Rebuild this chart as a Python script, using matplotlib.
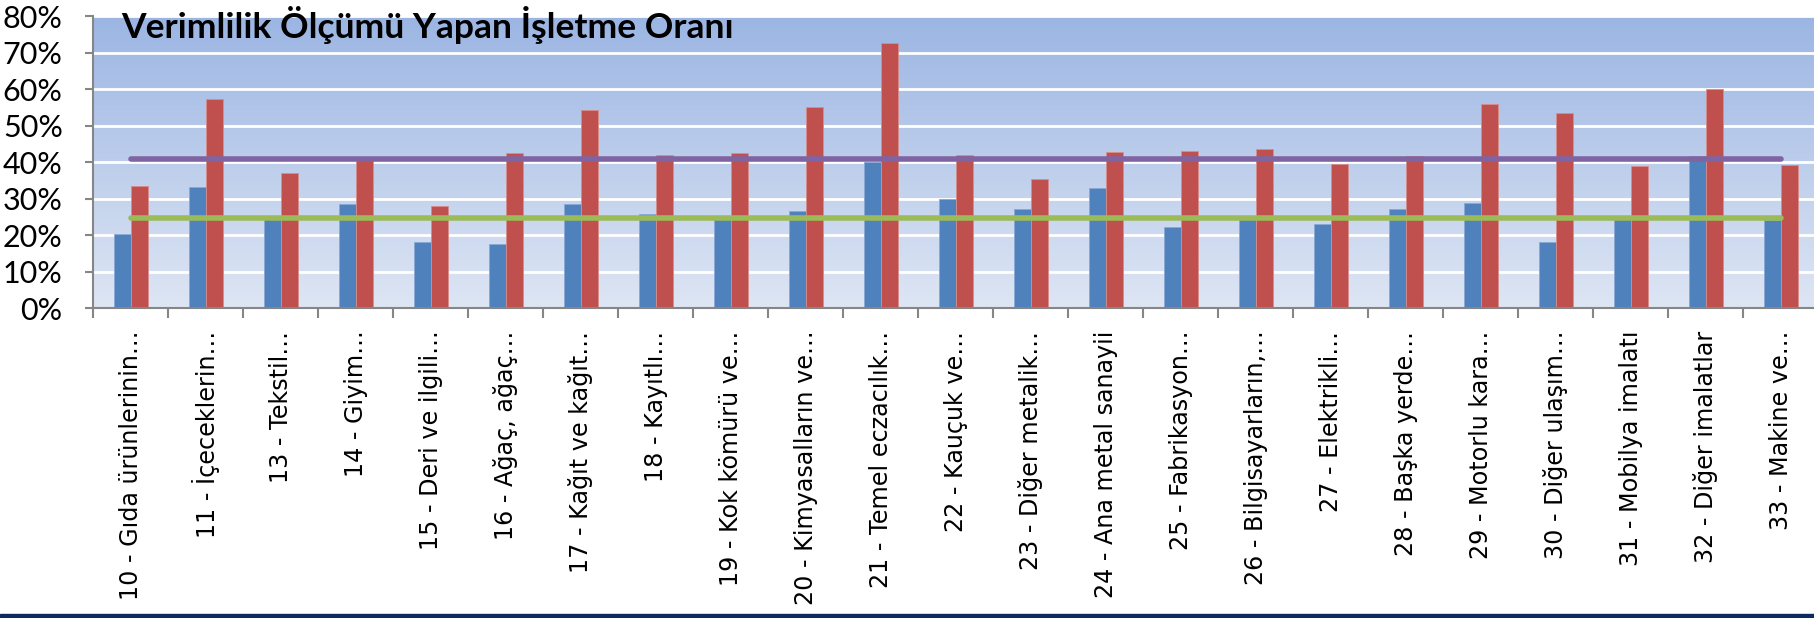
import numpy as np
import matplotlib
matplotlib.use('Agg')
import matplotlib.pyplot as plt
from matplotlib.patches import Rectangle
from matplotlib.ticker import PercentFormatter, FixedLocator

# Sector labels (truncated as in the original chart)
categories = [
    '10 - Gıda ürünlerinin…', '11 - İçeceklerin…', '13 - Tekstil…', '14 - Giyim…',
    '15 - Deri ve ilgili…', '16 - Ağaç, ağaç…', '17 - Kağıt ve kağıt…', '18 - Kayıtlı…',
    '19 - Kok kömürü ve…', '20 - Kimyasalların ve…', '21 - Temel eczacılık…',
    '22 - Kauçuk ve…', '23 - Diğer metalik…', '24 - Ana metal sanayii',
    '25 - Fabrikasyon…', '26 - Bilgisayarların,…', '27 - Elektrikli…',
    '28 - Başka yerde…', '29 - Motorlu kara…', '30 - Diğer ulaşım…',
    '31 - Mobilya imalatı', '32 - Diğer imalatlar', '33 - Makine ve…',
]

# Share of firms measuring productivity (blue / red series)
blue_values = [0.204, 0.333, 0.245, 0.285, 0.181, 0.176, 0.286, 0.258, 0.245, 0.267,
               0.401, 0.299, 0.272, 0.328, 0.222, 0.246, 0.231, 0.272, 0.288, 0.182,
               0.245, 0.417, 0.243]
red_values = [0.336, 0.572, 0.370, 0.405, 0.281, 0.426, 0.543, 0.420, 0.426, 0.550,
              0.727, 0.420, 0.354, 0.429, 0.431, 0.436, 0.395, 0.418, 0.559, 0.535,
              0.389, 0.600, 0.391]

# Average lines
red_average = 0.408
blue_average = 0.248

title = 'Verimlilik Ölçümü Yapan İşletme Oranı'

BLUE = '#4F81BD'
RED = '#C0504D'
GREEN = '#9BBB59'
PURPLE = '#8064A2'

W, H = 1814, 618
fig = plt.figure(figsize=(W / 100, H / 100), dpi=100)
ax = fig.add_axes([93.3 / W, 309.7 / H, 1725 / W, 292.3 / H])

x = np.arange(len(categories))
n = len(categories)

# Gradient plot background (darker at the top)
grad = np.linspace(1, 0, 256).reshape(-1, 1)
cmap = matplotlib.colors.LinearSegmentedColormap.from_list('bg', ['#9BB5E3', '#DEE6F4'])
ax.imshow(grad, cmap=cmap, aspect='auto', extent=(-0.5, n - 0.5, 0, 0.8),
          origin='lower', zorder=0, interpolation='bilinear')
ax.set_xlim(-0.5, n - 0.5)
ax.set_ylim(0, 0.8)

# Gridlines
ax.set_yticks(np.arange(0, 0.81, 0.1))
ax.yaxis.grid(True, color='white', linewidth=2, zorder=1)
ax.set_axisbelow(True)

# Bars
w = 0.227
ax.bar(x - w / 2, blue_values, width=w, color=BLUE, edgecolor='#8AA8D4', linewidth=0.6, zorder=2)
ax.bar(x + w / 2, red_values, width=w, color=RED, edgecolor='#D98C8A', linewidth=0.6, zorder=2)

# Average lines
ax.plot([x[0], x[-1]], [red_average, red_average], color=PURPLE, linewidth=4,
        solid_capstyle='round', zorder=3)
ax.plot([x[0], x[-1]], [blue_average, blue_average], color=GREEN, linewidth=4,
        solid_capstyle='round', zorder=3)

# Title inside plot area
fig.text(121 / W, 1 - 38 / H, title, family='Lato', fontweight='bold', fontsize=25.5,
         va='baseline', ha='left', zorder=5)

# Axes styling
for s in ['top', 'right']:
    ax.spines[s].set_visible(False)
for s in ['left', 'bottom']:
    ax.spines[s].set_color('#868686')
    ax.spines[s].set_linewidth(1.5)

ax.yaxis.set_major_formatter(PercentFormatter(1.0, decimals=0))
ax.tick_params(axis='y', length=6, width=1.5, color='#868686', pad=16, labelsize=22)
for lbl in ax.get_yticklabels():
    lbl.set_family('Lato')

ax.set_xticks(x)
ax.set_xticklabels(categories, rotation=90, family='DejaVu Sans', fontsize=17.2)
ax.tick_params(axis='x', which='major', length=0, pad=16)
ax.xaxis.set_minor_locator(FixedLocator(np.arange(n + 1) - 0.5))
ax.tick_params(axis='x', which='minor', length=7, width=1.5, color='#868686')

# Dark band at the bottom of the slide
fig.patches.append(Rectangle((0, 0), 1, 4.5 / H, transform=fig.transFigure,
                             color='#0E2A65', zorder=10))

fig.savefig('out.png', dpi=100)
